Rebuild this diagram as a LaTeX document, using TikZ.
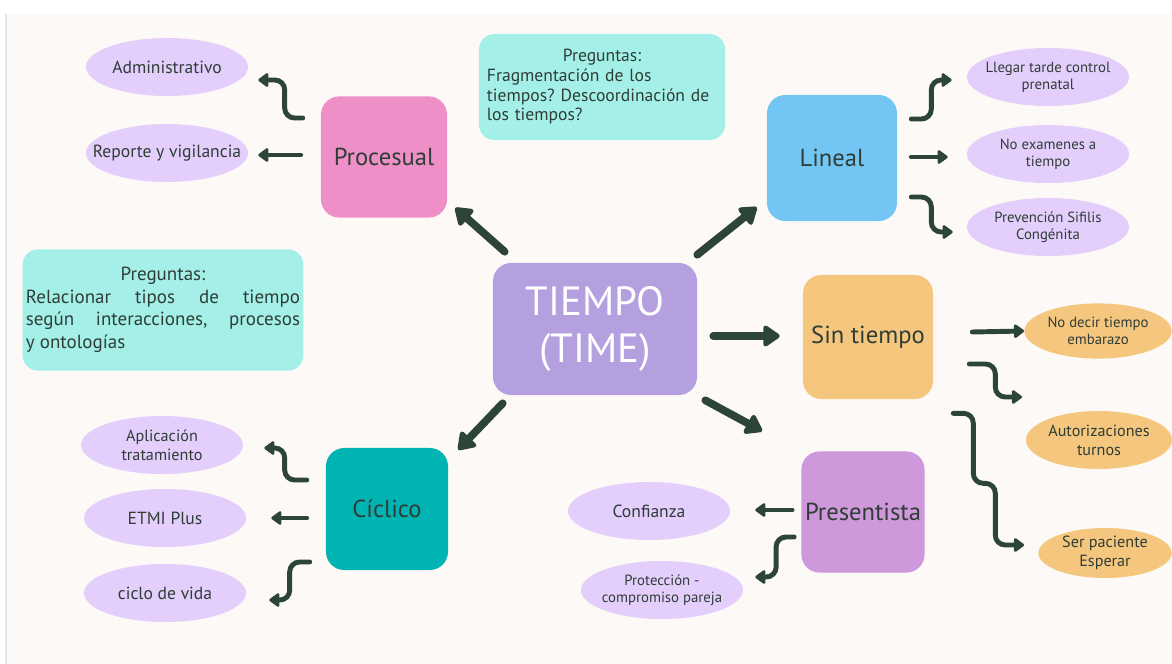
\documentclass[tikz,border=0pt]{standalone}
\usepackage{fontspec}
\setmainfont{PT Sans}
\usetikzlibrary{arrows.meta,shapes.geometric}
\frenchspacing

\definecolor{bgcol}{HTML}{FDF9F6}
\definecolor{ink}{HTML}{2D4536}
\definecolor{txt}{HTML}{2F3D36}
\definecolor{pinkc}{HTML}{EE8FC8}
\definecolor{bluec}{HTML}{73C5F4}
\definecolor{timec}{HTML}{B4A0DF}
\definecolor{orangec}{HTML}{F5C77E}
\definecolor{presc}{HTML}{CE98DB}
\definecolor{ciclc}{HTML}{00B4B3}
\definecolor{notec}{HTML}{A4F0E8}
\definecolor{lavc}{HTML}{E3CEFC}

\begin{document}
\begin{tikzpicture}[x=0.025cm, y=-0.025cm,
	main node/.style={rounded corners=13pt, inner sep=2pt, text=txt, font=\fontsize{17.5}{20}\selectfont},
	leaf/.style={ellipse, fill=lavc, inner xsep=-20pt, inner ysep=-3pt, minimum width=4.05cm, minimum height=1.45cm,
		align=center, text=txt, font=\fontsize{12.5}{14}\selectfont},
	small/.style={font=\fontsize{10.5}{12}\selectfont},
	two/.style={font=\fontsize{11.5}{13.5}\selectfont},
	note/.style={fill=notec, rounded corners=11pt, inner sep=2pt, text=txt, font=\fontsize{12.5}{14}\selectfont},
	arr/.style={draw=ink, line width=3.5pt, line cap=round, rounded corners=7pt,
		-{Triangle[length=8pt,width=11pt,round]}},
	big arr/.style={draw=ink, line width=5.5pt, line cap=round,
		-{Triangle[length=13pt,width=17pt,round]}}]
	
	\useasboundingbox (0,0) rectangle (1172,664);
	\clip (0,0) rectangle (1172,664);
	\fill[white] (0,0) rectangle (1172,664);
	\fill[bgcol] (7,14) rectangle (1172,664);
	\draw[gray!20, line width=1.5pt] (6,14) -- (6,664);
	
	% categories
	\node[main node, fill=timec, minimum width=5.1cm, minimum height=3.3cm, text=white,
		align=center, font=\fontsize{29}{33}\selectfont] (tiempo) at (595,329) {TIEMPO\\(TIME)};
	\node[main node, fill=pinkc, minimum width=3.15cm, minimum height=3.03cm] (proc) at (384,157) {Procesual};
	\node[main node, fill=bluec, minimum width=3.25cm, minimum height=3.15cm] (lin) at (832,158) {Lineal};
	\node[main node, fill=orangec, minimum width=3.25cm, minimum height=3.1cm] (sint) at (868,337) {Sin tiempo};
	\node[main node, fill=presc, minimum width=3.08cm, minimum height=3.03cm] (pres) at (863,512) {Presentista};
	\node[main node, fill=ciclc, minimum width=3.05cm, minimum height=3.05cm] (cicl) at (387,509) {Cíclico};
	
	% questions
	\node[note, minimum width=6.15cm, minimum height=2.65cm, text width=5.75cm, align=left] (q1) at (602,87)
		{\makebox[5.75cm]{Preguntas:}\\ Fragmentación de los\\ tiempos? Descoordinación de\\ los tiempos?};
	\node[note, minimum width=7.02cm, minimum height=3.03cm, text width=6.85cm, align=justify,
		font=\fontsize{13.5}{16}\selectfont] (q2) at (163,310)
		{\makebox[6.85cm]{Preguntas:}\\ Relacionar tipos de tiempo\linebreak según interacciones, procesos\linebreak y ontologías};
	
	% leaves
	\node[leaf] (admin) at (167,67) {Administrativo};
	\node[leaf] (rep) at (167,153) {Reporte y vigilancia};
	\node[leaf, small] (lleg) at (1048,77) {Llegar tarde control\\prenatal};
	\node[leaf, small] (noex) at (1048,154) {No examenes a\\tiempo};
	\node[leaf, small] (prev) at (1048,227) {Prevención Sifilis\\Congénita};
	\node[leaf, small, fill=orangec, minimum width=3.68cm, minimum height=1.38cm] (nodec) at (1098,331) {No decir tiempo\\embarazo};
	\node[leaf, two, fill=orangec, minimum width=3.65cm] (autor) at (1099,440) {Autorizaciones\\turnos};
	\node[leaf, two, fill=orangec, minimum width=3.33cm, minimum height=1.25cm] (ser) at (1105,553) {Ser paciente\\Esperar};
	\node[leaf] (conf) at (649,511) {Confianza};
	\node[leaf, small] (prot) at (662,590) {Protección -\\compromiso pareja};
	\node[leaf, two] (aplic) at (162,445) {Aplicación\\tratamiento};
	\node[leaf] (etmi) at (165,518) {ETMI Plus};
	\node[leaf] (ciclo) at (165,593) {ciclo de vida};
	\coordinate (open) at (1022,397);
	
	% center arrows
	\draw[big arr] ([shift={(12,-11)}]tiempo.north west) -- ([shift={(8,-10)}]proc.south east);
	\draw[big arr] ([shift={(0,-8)}]tiempo.north east) -- ([shift={(-10,-14)}]lin.south west);
	\draw[big arr] ([shift={(16,7)}]tiempo.east) -- ([shift={(-23,-1)}]sint.west);
	\draw[big arr] ([shift={(8,5)}]tiempo.south east) -- ([shift={(-39,-20)}]pres.north west);
	\draw[big arr] ([shift={(10,8)}]tiempo.south west) -- ([shift={(10,2)}]cicl.north east);
	
	% small arrows
	\draw[arr] ([shift={(-18,-39)}]proc.west) -- ++(-18,0) |- ([shift={(10,13)}]admin.east);
	\draw[arr] ([shift={(-20,-2)}]proc.west) -- ([shift={(10,2)}]rep.east);
	\draw[arr] ([shift={(14,-39)}]lin.east) -- ++(20,0) |- ([shift={(-15,3)}]lleg.west);
	\draw[arr] ([shift={(14,-1)}]lin.east) -- ([shift={(-19,3)}]noex.west);
	\draw[arr] ([shift={(14,39)}]lin.east) -- ++(20,0) |- ([shift={(-14,5)}]prev.west);
	\draw[arr] ([shift={(39,-5)}]sint.east) -- (nodec.west);
	\draw[arr] ([shift={(36,27)}]sint.east) -- ++(26,0) |- (open);
	\draw[arr] ([shift={(20,14)}]sint.south east) -- ++(20,0) -- ++(0,70) -- ++(22,0) |- ([shift={(-14,-8)}]ser.west);
	\draw[arr] ([shift={(-9,-2)}]pres.west) -- ([shift={(25,-1)}]conf.east);
	\draw[arr] ([shift={(-7,25)}]pres.west) -- ++(-18,0) |- ([shift={(12,-13)}]prot.east);
	\draw[arr] ([shift={(-19,-29)}]cicl.west) -- ++(-22,0) |- ([shift={(21,3)}]aplic.east);
	\draw[arr] ([shift={(-19,9)}]cicl.west) -- ([shift={(25,0)}]etmi.east);
	\draw[arr] ([shift={(-16,53)}]cicl.west) -- ++(-20,0) |- ([shift={(23,7)}]ciclo.east);
	
\end{tikzpicture}
\end{document}
